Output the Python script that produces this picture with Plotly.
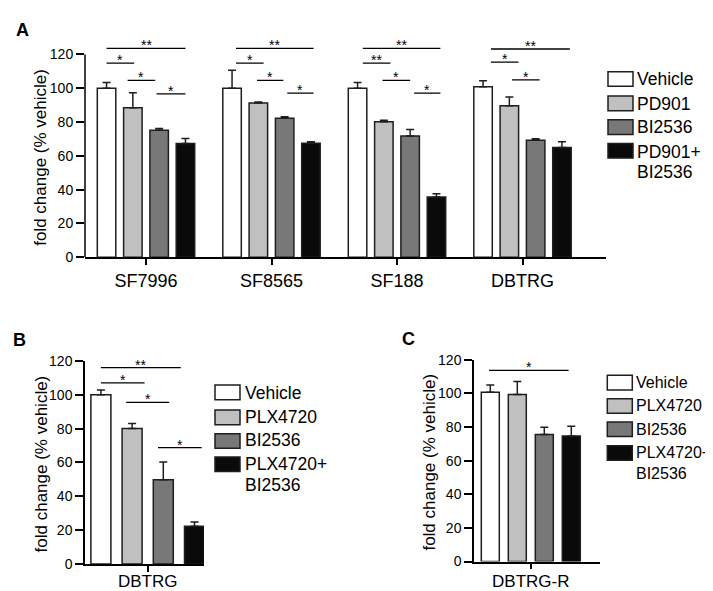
import plotly.graph_objects as go

# ---------------- data ----------------
cell_lines_A = ["SF7996", "SF8565", "SF188", "DBTRG"]
treatments_A = ["Vehicle", "PD901", "BI2536", "PD901+ BI2536"]
vehicle_A = [100.0, 100.0, 100.0, 100.9]
pd901_A = [88.4, 91.3, 80.2, 89.6]
bi2536_A = [75.2, 82.3, 71.8, 69.3]
combo_A = [67.3, 67.5, 35.7, 65.0]
vehicle_A_err = [3.4, 10.7, 3.4, 3.5]
pd901_A_err = [9.0, 0.5, 0.8, 5.2]
bi2536_A_err = [1.0, 0.8, 3.8, 0.8]
combo_A_err = [3.0, 0.8, 1.9, 3.3]

treatments_BC = ["Vehicle", "PLX4720", "BI2536", "PLX4720+ BI2536"]
cell_line_B = ["DBTRG"]
values_B = [100.0, 80.0, 49.8, 22.3]
errors_B = [2.8, 3.0, 10.5, 2.6]
cell_line_C = ["DBTRG-R"]
values_C = [100.7, 99.4, 75.6, 74.7]
errors_C = [4.3, 7.7, 4.3, 5.7]

y_ticks = [0, 20, 40, 60, 80, 100, 120]
y_title = "fold change (% vehicle)"

# significance brackets: (group, from bar, to bar, level, label)
sig_A = [
    (0, 0.0, 3.0, 123.6, "**"), (0, 0.0, 1.05, 114.9, "*"), (0, 0.8, 1.85, 104.7, "*"), (0, 1.9, 3.0, 96.7, "*"),
    (1, 0.15, 3.1, 123.6, "**"), (1, 0.15, 1.2, 114.9, "*"), (1, 0.95, 1.95, 104.7, "*"), (1, 2.1, 3.1, 97.1, "*"),
    (2, 0.2, 3.15, 123.6, "**"), (2, 0.2, 1.25, 114.9, "**"), (2, 0.95, 2.0, 104.7, "*"), (2, 2.15, 3.15, 97.1, "*"),
    (3, 0.3, 3.3, 123.2, "**"), (3, 0.3, 1.35, 115.5, "*"), (3, 1.1, 2.15, 104.9, "*"),
]
sig_B = [(0, 0.0, 2.56, 116.0, "**"), (0, 0.0, 1.4, 107.0, "*"),
         (0, 0.81, 2.19, 95.5, "*"), (0, 1.83, 3.23, 68.8, "*")]
sig_C = [(0, -0.05, 2.9, 113.7, "*")]

colors = ["#ffffff", "#c0c0c0", "#787878", "#0a0a0a"]
EDGE = "#1e1e1e"

# ---------------- layout helpers ----------------
W, H = 713, 591
FONT = "Liberation Sans, Arial, Helvetica, sans-serif"
PPU = 125.5  # pixels per category unit


def fx(p):
    return p / W


def fy(p):
    return 1 - p / H


panels = [
    dict(name="A", xa="x", ya="y", left=77, right=598, center=138, zero=248, scale=1.7375,
         ymax=127, slot=26.3, barw=18.5, cats=cell_lines_A, xfont=18, xstand=0,
         vals=[vehicle_A, pd901_A, bi2536_A, combo_A],
         errs=[vehicle_A_err, pd901_A_err, bi2536_A_err, combo_A_err], sig=sig_A),
    dict(name="B", xa="x2", ya="y2", left=77, right=196, center=139.7, zero=563.3, scale=1.74,
         ymax=120, slot=31.2, barw=20, cats=cell_line_B, xfont=17, xstand=-5,
         vals=[[v] for v in values_B], errs=[[e] for e in errors_B], sig=sig_B),
    dict(name="C", xa="x3", ya="y3", left=466, right=592, center=522.8, zero=560.7, scale=1.728,
         ymax=120, slot=27, barw=18, cats=cell_line_C, xfont=17, xstand=-3,
         vals=[[v] for v in values_C], errs=[[e] for e in errors_C], sig=sig_C),
]

fig = go.Figure()
shapes = []
annotations = []
layout_axes = {}

for i, p in enumerate(panels):
    slot_u = p["slot"] / PPU
    w_u = p["barw"] / PPU
    for k in range(4):
        fig.add_trace(go.Bar(
            x=p["cats"], y=p["vals"][k],
            width=w_u, offset=(k - 1.5) * slot_u - w_u / 2,
            marker=dict(color=colors[k], line=dict(color=EDGE, width=1.5)),
            error_y=dict(type="data", symmetric=False, array=p["errs"][k],
                         arrayminus=[0] * len(p["cats"]), color=EDGE, thickness=1.5, width=4),
            xaxis=p["xa"], yaxis=p["ya"], showlegend=False, hoverinfo="skip",
        ))
    suffix = "" if i == 0 else str(i + 1)
    top_px = p["zero"] - p["ymax"] * p["scale"]
    layout_axes["xaxis" + suffix] = dict(
        domain=[fx(p["left"]), fx(p["right"])],
        range=[(p["left"] - p["center"]) / PPU, (p["right"] - p["center"]) / PPU],
        type="category", anchor=p["ya"], showline=True, linecolor="black", linewidth=1.5,
        ticks="outside", ticklen=6, tickwidth=1.5, tickcolor="black",
        ticklabelstandoff=p["xstand"],
        tickfont=dict(size=p["xfont"], color="black", family=FONT),
        showgrid=False, zeroline=False, fixedrange=True,
    )
    layout_axes["yaxis" + suffix] = dict(
        domain=[fy(p["zero"]), fy(top_px)], range=[0, p["ymax"]], anchor=p["xa"],
        tickvals=y_ticks, showline=(p["ymax"] == 120), linecolor="black", linewidth=1.5,
        ticks="outside", ticklen=8, tickwidth=1.5, tickcolor="black",
        tickfont=dict(size=14, color="black", family=FONT),
        showgrid=False, zeroline=False, fixedrange=True,
    )
    if p["ymax"] != 120:
        shapes.append(dict(type="line", xref=p["xa"] + " domain", yref=p["ya"],
                           x0=0, x1=0, y0=0, y1=120, line=dict(color="black", width=1.5)))
    # significance brackets
    for g, s0, s1, lvl, lab in p["sig"]:
        x0 = g + (s0 - 1.5) * slot_u
        x1 = g + (s1 - 1.5) * slot_u
        shapes.append(dict(type="line", xref=p["xa"], yref=p["ya"], x0=x0, x1=x1, y0=lvl, y1=lvl,
                           line=dict(color="black", width=1.3)))
        annotations.append(dict(x=(x0 + x1) / 2, y=lvl, xref=p["xa"], yref=p["ya"], text=lab,
                                showarrow=False, xanchor="center", yanchor="middle", yshift=3,
                                font=dict(size=14, color="black", family=FONT)))
    # y axis title
    annotations.append(dict(text=y_title, textangle=-90, showarrow=False,
                            xref="paper", yref="paper", xanchor="center", yanchor="middle",
                            x=fx(p["left"] - 44), y=fy((p["zero"] + p["zero"] - 120 * p["scale"]) / 2 + 2),
                            font=dict(size=17, color="black", family=FONT)))


# legends
def draw_legend(labels, box_left, box_tops, text_x, text_centers, size):
    for k, lab in enumerate(labels):
        shapes.append(dict(type="rect", xref="paper", yref="paper",
                           x0=fx(box_left), x1=fx(box_left + 25),
                           y0=fy(box_tops[k] + 15), y1=fy(box_tops[k]),
                           fillcolor=colors[k], line=dict(color=EDGE, width=1.5)))
        parts = lab.split(" ")
        for j, part in enumerate(parts):
            annotations.append(dict(text=part, showarrow=False, xref="paper", yref="paper",
                                    x=fx(text_x), y=fy(text_centers[k][j]),
                                    xanchor="left", yanchor="middle",
                                    font=dict(size=size, color="black", family=FONT)))


draw_legend(treatments_A, 600, [57.3, 82.3, 106.7, 131], 627, [[65], [90], [114.3], [140, 160]], 17.5)
draw_legend(treatments_BC, 207, [379.3, 405, 429.3, 453.3], 235, [[387.5], [411.8], [436.2], [460.8, 482.2]], 17.5)
draw_legend(treatments_BC, 599.3, [369.3, 393.3, 417.3, 441.7], 625.5, [[376.7], [400.7], [425], [449, 470]], 16)

# panel letters
for lab, xp, yp in [("A", 6, 14), ("B", 3, 333), ("C", 392, 332)]:
    annotations.append(dict(text="<b>%s</b>" % lab, showarrow=False, xref="paper", yref="paper",
                            x=fx(xp), y=fy(yp), xanchor="left", yanchor="middle",
                            font=dict(size=18, color="black", family=FONT)))

fig.update_layout(
    width=W, height=H, margin=dict(l=0, r=0, t=0, b=0),
    paper_bgcolor="white", plot_bgcolor="white", barmode="overlay",
    shapes=shapes, annotations=annotations, showlegend=False,
    font=dict(family=FONT, color="black"),
    **layout_axes,
)

fig.write_html("out.html")
